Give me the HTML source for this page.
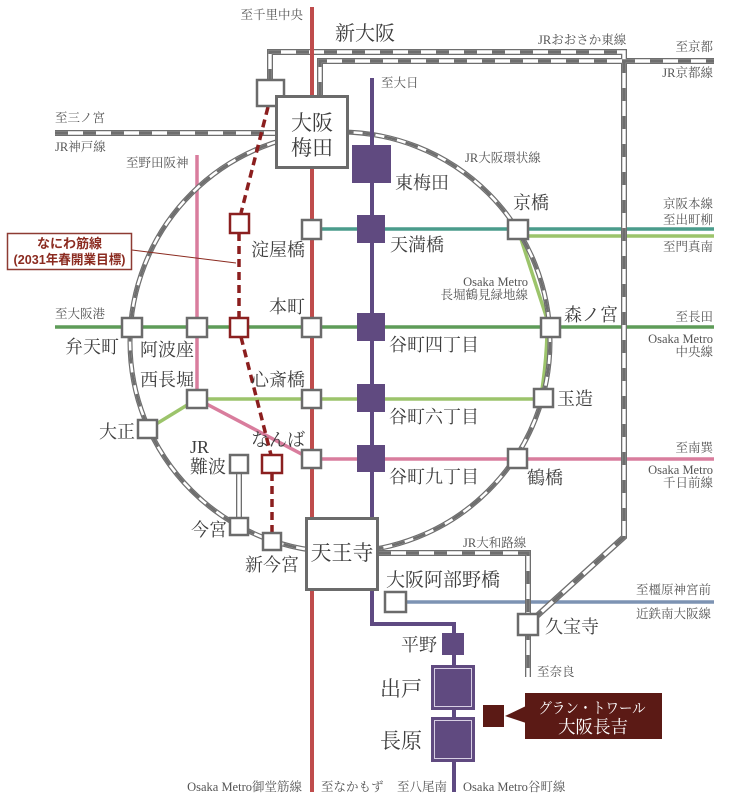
<!DOCTYPE html>
<html><head><meta charset="utf-8">
<style>
html,body{margin:0;padding:0;background:#fff;}
svg{display:block;}
.s{font-family:"Liberation Serif","Noto Serif CJK SC",serif;fill:#3d3d3d;}
.m{font-family:"Liberation Serif","Noto Serif CJK SC",serif;fill:#555;font-size:12.5px;}
</style></head>
<body>
<svg width="731" height="800" viewBox="0 0 731 800" xmlns="http://www.w3.org/2000/svg">
<rect width="731" height="800" fill="#fff"/>

<!-- colored lines -->
<g fill="none" stroke-width="3.5">
  <line x1="311" y1="229" x2="714" y2="229" stroke="#4a9c8c"/>
  <line x1="518" y1="236" x2="714" y2="236" stroke="#9cc46b"/>
  <line x1="55" y1="327" x2="714" y2="327" stroke="#5e9c58"/>
  <polyline points="148,429 197,399 543,399" stroke="#9cc46b"/>
  <path d="M520,236 L548,322 L547,335 Q546,365 541,396" stroke="#9cc46b"/>
  <polyline points="197,155 197,399 311,459 714,459" stroke="#d97d9d"/>
  <line x1="395" y1="602" x2="714" y2="602" stroke="#7d93b3"/>
</g>

<!-- JR loop -->
<g fill="none">
  <circle cx="340" cy="342" r="210" stroke="#6e6e6e" stroke-width="5"/>
  <circle cx="340" cy="342" r="210" stroke="#fff" stroke-width="2.6"/>
  <circle cx="340" cy="342" r="210" stroke="#6e6e6e" stroke-width="2.6" stroke-dasharray="13 9"/>
</g>

<!-- JR lines -->
<g fill="none">
  <g stroke="#6e6e6e" stroke-width="6">
    <line x1="55" y1="133" x2="276" y2="133"/>
    <polyline points="320,95 320,61 714,61"/>
    <polyline points="270,82 270,52 624,52 624,537 528,624"/>
    <polyline points="378,553 528,553 528,677"/>
    <line x1="239" y1="470" x2="239" y2="522"/>
  </g>
  <g stroke="#fff" stroke-width="3.4">
    <line x1="55" y1="133" x2="276" y2="133"/>
    <polyline points="320,95 320,61 714,61"/>
    <polyline points="270,82 270,52 624,52 624,537 528,624"/>
    <polyline points="378,553 528,553 528,677"/>
    <line x1="239" y1="470" x2="239" y2="522"/>
  </g>
  <g stroke="#6e6e6e" stroke-width="3.4" stroke-dasharray="13 15">
    <line x1="55" y1="133" x2="276" y2="133"/>
    <polyline points="320,95 320,61 714,61"/>
    <polyline points="270,82 270,52 624,52 624,537 528,624"/>
    <polyline points="378,553 528,553 528,677"/>
  </g>
</g>

<!-- Midosuji red -->
<line x1="312" y1="7" x2="312" y2="792" stroke="#bf4c4c" stroke-width="4"/>
<!-- Tanimachi purple -->
<polyline points="372,78 372,624 454,624 454,792" fill="none" stroke="#5f4a82" stroke-width="4"/>

<!-- Naniwasuji dashed -->
<g fill="none" stroke="#8b1e1e" stroke-width="3.5" stroke-dasharray="8 5">
  <line x1="268" y1="107" x2="241" y2="213"/>
  <line x1="239" y1="233" x2="239" y2="318"/>
  <line x1="241" y1="337" x2="271" y2="455"/>
  <line x1="272" y1="473" x2="272" y2="533"/>
</g>

<!-- Naniwasuji label -->
<line x1="132" y1="250" x2="236" y2="263" stroke="#8b2b20" stroke-width="1"/>
<rect x="7.5" y="233.5" width="124" height="36" fill="#fff" stroke="#8e3b33" stroke-width="1.5"/>
<g font-family="'Liberation Sans','Noto Sans CJK JP',sans-serif" font-weight="bold" fill="#8b2b20" font-size="13" text-anchor="middle">
  <text x="69.5" y="248">なにわ筋線</text>
  <text x="69.5" y="264" textLength="112" lengthAdjust="spacingAndGlyphs">(2031年春開業目標)</text>
</g>

<!-- white station boxes -->
<g fill="#fff" stroke="#6b6b6b" stroke-width="2.5">
  <rect x="257" y="80" width="27" height="26"/>
  <rect x="302" y="220" width="19" height="19"/>
  <rect x="508" y="220" width="20" height="19"/>
  <rect x="122" y="318" width="20" height="19"/>
  <rect x="187" y="318" width="20" height="19"/>
  <rect x="302" y="318" width="19" height="19"/>
  <rect x="541" y="318" width="19" height="19"/>
  <rect x="187" y="390" width="20" height="18"/>
  <rect x="302" y="390" width="19" height="18"/>
  <rect x="534" y="389" width="19" height="18"/>
  <rect x="138" y="420" width="19" height="18"/>
  <rect x="302" y="450" width="19" height="18"/>
  <rect x="508" y="449" width="19" height="19"/>
  <rect x="230" y="455" width="18" height="18"/>
  <rect x="230" y="518" width="18" height="17"/>
  <rect x="263" y="533" width="18" height="17"/>
  <rect x="385" y="592" width="21" height="20"/>
  <rect x="518" y="614" width="20" height="21"/>
</g>
<g fill="#fff" stroke="#6b6b6b" stroke-width="3">
  <rect x="276.5" y="96.5" width="71" height="71"/>
  <rect x="306.5" y="518.5" width="71" height="71"/>
</g>
<g fill="#fff" stroke="#8b2020" stroke-width="2.5">
  <rect x="230" y="214" width="19" height="19"/>
  <rect x="230" y="318" width="18" height="19"/>
  <rect x="262" y="455" width="20" height="18"/>
</g>

<!-- purple stations -->
<g fill="#604a80">
  <rect x="352" y="145" width="39" height="38"/>
  <rect x="357" y="215" width="28" height="28"/>
  <rect x="357" y="313" width="28" height="28"/>
  <rect x="357" y="384" width="28" height="28"/>
  <rect x="357" y="445" width="28" height="27"/>
  <rect x="442" y="633" width="22" height="22"/>
  <rect x="431" y="665" width="44" height="45"/>
  <rect x="431" y="717" width="44" height="45"/>
</g>
<g fill="none" stroke="#d8cfe4" stroke-width="1">
  <rect x="434.5" y="668.5" width="37" height="38"/>
  <rect x="434.5" y="720.5" width="37" height="38"/>
</g>

<!-- Callout -->
<rect x="483" y="705" width="21" height="22" fill="#5b1a15"/>
<polygon points="526,706 505,716 526,723" fill="#5b1a15"/>
<rect x="525" y="693" width="137" height="46" fill="#5b1a15"/>
<g class="s" style="fill:#fff" text-anchor="middle">
  <text x="592" y="713" font-size="15" textLength="107" lengthAdjust="spacingAndGlyphs">グラン・トワール</text>
  <text x="593" y="733" font-size="17.5" textLength="70" lengthAdjust="spacingAndGlyphs">大阪長吉</text>
</g>

<!-- station labels -->
<g class="s" font-size="18">
  <text x="335" y="40" font-size="20">新大阪</text>
  <text x="312" y="130" font-size="21" text-anchor="middle">大阪</text>
  <text x="312" y="155" font-size="21" text-anchor="middle">梅田</text>
  <text x="395" y="189">東梅田</text>
  <text x="305" y="256" text-anchor="end">淀屋橋</text>
  <text x="390" y="251">天満橋</text>
  <text x="513" y="209">京橋</text>
  <text x="305" y="313" text-anchor="end">本町</text>
  <text x="65" y="353">弁天町</text>
  <text x="140" y="356">阿波座</text>
  <text x="389" y="351">谷町四丁目</text>
  <text x="564" y="321">森ノ宮</text>
  <text x="140" y="386">西長堀</text>
  <text x="305" y="386" text-anchor="end">心斎橋</text>
  <text x="557" y="405">玉造</text>
  <text x="389" y="423">谷町六丁目</text>
  <text x="135" y="438" text-anchor="end">大正</text>
  <text x="190" y="453">JR</text>
  <text x="190" y="473">難波</text>
  <text x="305" y="446" text-anchor="end">なんば</text>
  <text x="389" y="483">谷町九丁目</text>
  <text x="527" y="484">鶴橋</text>
  <text x="227" y="536" text-anchor="end">今宮</text>
  <text x="245" y="571">新今宮</text>
  <text x="342" y="560" font-size="21" text-anchor="middle">天王寺</text>
  <text x="386" y="586" font-size="19">大阪阿部野橋</text>
  <text x="545" y="633">久宝寺</text>
  <text x="437" y="651" text-anchor="end">平野</text>
  <text x="422" y="696" font-size="21" text-anchor="end">出戸</text>
  <text x="422" y="748" font-size="21" text-anchor="end">長原</text>
</g>

<!-- small labels -->
<g class="m">
  <text x="303" y="19" text-anchor="end">至千里中央</text>
  <text x="538" y="44">JRおおさか東線</text>
  <text x="713" y="51" text-anchor="end">至京都</text>
  <text x="713" y="77" text-anchor="end">JR京都線</text>
  <text x="381" y="87">至大日</text>
  <text x="55" y="122">至三ノ宮</text>
  <text x="55" y="151">JR神戸線</text>
  <text x="126" y="167">至野田阪神</text>
  <text x="465" y="162">JR大阪環状線</text>
  <text x="713" y="208" text-anchor="end">京阪本線</text>
  <text x="713" y="224" text-anchor="end">至出町柳</text>
  <text x="713" y="251" text-anchor="end">至門真南</text>
  <text x="528" y="286" text-anchor="end">Osaka Metro</text>
  <text x="528" y="299" text-anchor="end">長堀鶴見緑地線</text>
  <text x="55" y="318">至大阪港</text>
  <text x="713" y="321" text-anchor="end">至長田</text>
  <text x="713" y="343" text-anchor="end">Osaka Metro</text>
  <text x="713" y="356" text-anchor="end">中央線</text>
  <text x="713" y="452" text-anchor="end">至南巽</text>
  <text x="713" y="474" text-anchor="end">Osaka Metro</text>
  <text x="713" y="487" text-anchor="end">千日前線</text>
  <text x="463" y="547">JR大和路線</text>
  <text x="711" y="594" text-anchor="end">至橿原神宮前</text>
  <text x="711" y="618" text-anchor="end">近鉄南大阪線</text>
  <text x="537" y="676">至奈良</text>
  <text x="302" y="791" text-anchor="end">Osaka Metro御堂筋線</text>
  <text x="321" y="791">至なかもず</text>
  <text x="397" y="791">至八尾南</text>
  <text x="463" y="791">Osaka Metro谷町線</text>
</g>
</svg>
</body></html>
